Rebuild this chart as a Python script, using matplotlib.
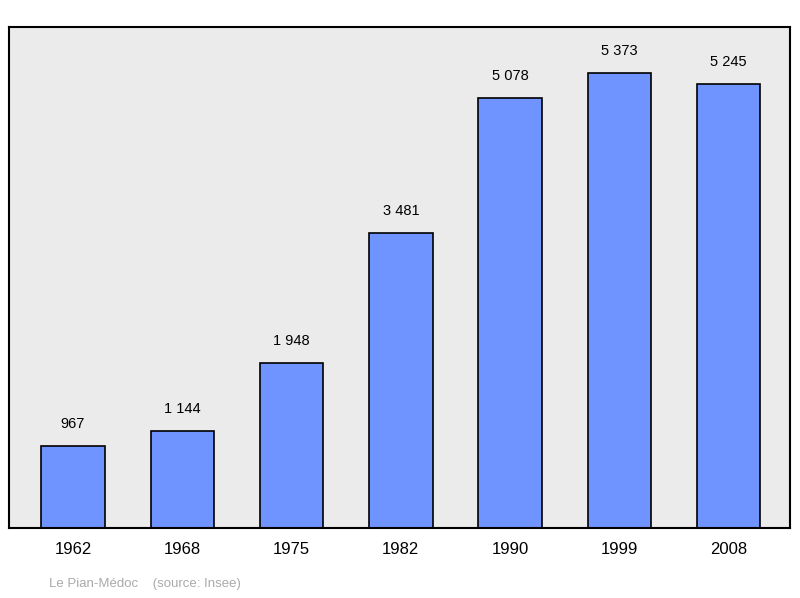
import matplotlib.pyplot as plt

years = ["1962", "1968", "1975", "1982", "1990", "1999", "2008"]
population = [967, 1144, 1948, 3481, 5078, 5373, 5245]
value_labels = ["967", "1 144", "1 948", "3 481", "5 078", "5 373", "5 245"]

plt.rcParams["font.family"] = ["Liberation Sans", "DejaVu Sans"]

fig = plt.figure(figsize=(8, 5.98), dpi=100)
ax = fig.add_axes([9 / 800, 1 - 528 / 598, 781 / 800, 501 / 598])
ax.set_facecolor("#ebebeb")

x = list(range(len(years)))
ax.bar(x, population, width=0.58, color="#7094ff", edgecolor="black", linewidth=1.2, zorder=2)
for xi, v, lab in zip(x, population, value_labels):
    ax.text(xi, v + 180, lab, ha="center", va="bottom", fontsize=10.5)

ax.set_xlim(-0.585, 6.56)
ax.set_ylim(0, 5916)
ax.set_yticks([])
ax.set_xticks(x)
ax.set_xticklabels(years, fontsize=12)
ax.tick_params(axis="x", length=0, pad=10)
for s in ax.spines.values():
    s.set_linewidth(1.5)

fig.text(49 / 800, 1 - 584 / 598, "Le Pian-Médoc    (source: Insee)", color="#aaaaaa",
         fontsize=9.5, va="center")

fig.savefig("out.png", dpi=100)
